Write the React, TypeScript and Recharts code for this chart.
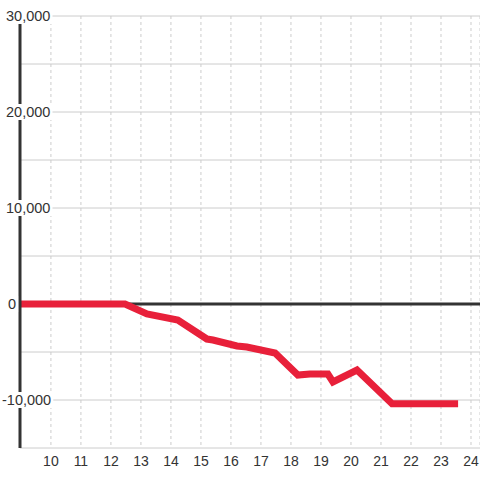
import { LineChart, Line, XAxis, YAxis, CartesianGrid, ReferenceLine } from "recharts";

// hour of day vs running balance
const hours = [8.97, 12.47, 13.2, 14.23, 15.2, 15.4, 16.2, 16.53, 17.47, 18.23, 18.63, 19.23, 19.4, 20.2, 21.37, 23.57];
const balance = [0, 0, -1040, -1670, -3650, -3750, -4375, -4480, -5100, -7400, -7300, -7300, -8125, -6875, -10400, -10400];
const xTicks = [10, 11, 12, 13, 14, 15, 16, 17, 18, 19, 20, 21, 22, 23, 24];
const yTicks = [-15000, -10000, -5000, 0, 5000, 10000, 15000, 20000, 25000, 30000];

const data = hours.map((h, i) => ({ h, v: balance[i] }));

const FONT = '"Liberation Sans", Arial, sans-serif';

const YTick = ({ y, payload }: any) => {
  const v = payload.value;
  if (v % 10000 !== 0) return <g />;
  const label = v.toLocaleString("en-US");
  const x0 = v < 0 ? 2 : v === 0 ? 8 : 6;
  let w = 0;
  for (const c of label) w += c === "," ? 4 : c === "-" ? 4.8 : 8.1;
  return (
    <g>
      <rect x={x0 - 2} y={y - 8} width={w + 4} height={16} fill="#fff" />
      <text x={x0} y={y} dy="0.35em" fontSize={14.5} fill="#333" fontFamily={FONT}>
        {label}
      </text>
    </g>
  );
};

export default function App() {
  return (
    <div style={{ position: "absolute", left: 0, top: 0, width: 480, height: 480, background: "#fff" }}>
      <LineChart width={480} height={480} data={data} margin={{ top: 16, right: 0, left: 0, bottom: 0 }}>
        <CartesianGrid stroke="#ccc" horizontal vertical={false} />
        <CartesianGrid stroke="#ccc" strokeDasharray="3 3" horizontal={false} vertical />
        <XAxis
          dataKey="h"
          type="number"
          domain={[8.97, 24.3]}
          ticks={xTicks}
          axisLine={false}
          tickLine={false}
          height={32}
          tick={{ fontSize: 14, fill: "#333", fontFamily: FONT }}
        />
        <YAxis
          type="number"
          domain={[-15000, 30000]}
          ticks={yTicks}
          width={20}
          axisLine={{ stroke: "#333", strokeWidth: 3 }}
          tickLine={false}
          tick={<YTick />}
        />
        <ReferenceLine y={0} stroke="#333" strokeWidth={3} />
        <Line
          type="linear"
          dataKey="v"
          stroke="#e8203a"
          strokeWidth={7}
          dot={false}
          activeDot={false}
          isAnimationActive={false}
        />
      </LineChart>
    </div>
  );
}
